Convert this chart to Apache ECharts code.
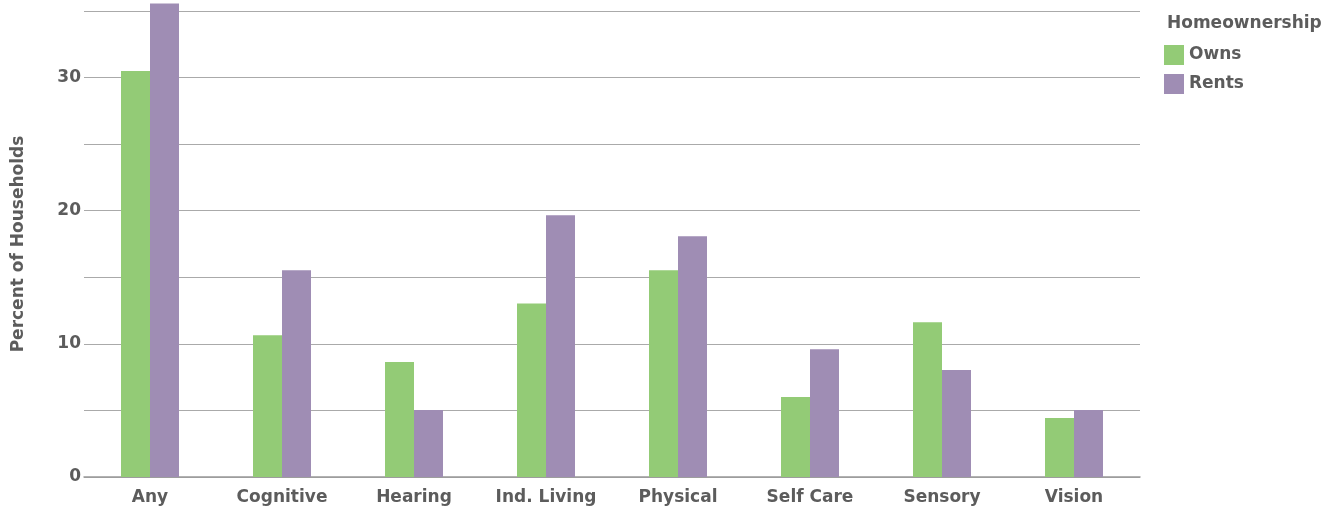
<!DOCTYPE html>
<html>
<head>
<meta charset="utf-8">
<script src="https://cdn.jsdelivr.net/npm/echarts@6/dist/echarts.min.js"></script>
<style>
  html, body { margin: 0; padding: 0; background: #fff; }
  #chart { width: 1339px; height: 512px; }
</style>
</head>
<body>
<div id="chart"></div>
<script>
var categories = ['Any', 'Cognitive', 'Hearing', 'Ind. Living', 'Physical', 'Self Care', 'Sensory', 'Vision']
var owns = [30.5, 10.65, 8.63, 13.03, 15.53, 6.0, 11.63, 4.43]
var rents = [35.56, 15.53, 5.03, 19.65, 18.08, 9.6, 8.03, 5.03]

var chart = echarts.init(document.getElementById('chart'))
var font = '"DejaVu Sans", sans-serif'
var txt = { fontFamily: font, fontSize: 17, fontWeight: 'bold', color: '#5c5c5c' }

chart.setOption({
  animation: false,
  title: {
    text: 'Homeownership',
    left: 1162,
    top: 10,
    textStyle: txt
  },
  legend: {
    orient: 'vertical',
    left: 1159,
    top: 40,
    itemWidth: 20,
    itemHeight: 20,
    itemGap: 9,
    icon: 'rect',
    textStyle: txt,
    data: ['Owns', 'Rents']
  },
  grid: { left: 84, right: 199, top: 11, bottom: 35, containLabel: false, outerBoundsMode: 'none' },
  xAxis: {
    type: 'category',
    data: categories,
    axisTick: { show: false },
    axisLine: { lineStyle: { color: '#999', width: 1.5 } },
    axisLabel: Object.assign({ margin: 12 }, txt)
  },
  yAxis: {
    type: 'value',
    min: 0,
    max: 35,
    interval: 5,
    name: 'Percent of Households',
    nameLocation: 'middle',
    nameRotate: 90,
    nameGap: 57,
    nameTextStyle: txt,
    axisLine: { show: false },
    axisTick: { show: false },
    splitLine: { lineStyle: { color: '#aaa', width: 1 } },
    axisLabel: Object.assign({
      margin: 3,
      formatter: function (v) { return v % 10 === 0 ? v : '' }
    }, txt)
  },
  series: [{
    name: 'Owns',
    type: 'bar',
    data: owns,
    barWidth: 29,
    barGap: '0%',
    clip: false,
    itemStyle: { color: '#93cb76' }
  }, {
    name: 'Rents',
    type: 'bar',
    data: rents,
    barWidth: 29,
    barGap: '0%',
    clip: false,
    itemStyle: { color: '#9f8db4' }
  }]
})
</script>
</body>
</html>
